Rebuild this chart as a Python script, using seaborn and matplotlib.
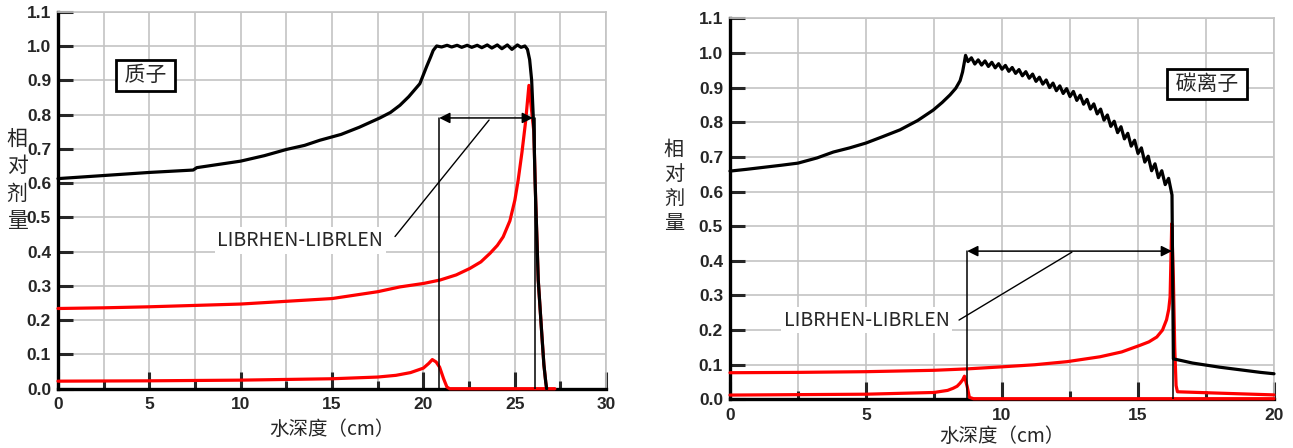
import matplotlib
matplotlib.use("Agg")
import matplotlib.pyplot as plt
import seaborn as sns

# ---- 质子 (proton) ----
p_black_x = [0, 2.5, 5, 7.4, 7.6, 10, 11.3, 12.5, 13.5, 14.34, 15.5, 16.5, 17.62, 18.2, 18.72, 19.2, 19.81,
             20.18, 20.4, 20.54,
             20.73, 21.0, 21.3, 21.55, 21.85, 22.1, 22.4, 22.65, 22.95, 23.2, 23.5, 23.75, 24.05, 24.3, 24.6,
             24.85, 25.15, 25.35, 25.56, 25.7, 25.82, 25.93, 26.05, 26.12, 26.18, 26.29, 26.47, 26.6, 26.7, 26.75]
p_black_y = [0.613, 0.622, 0.631, 0.638, 0.645, 0.664, 0.68, 0.698, 0.71, 0.725, 0.742, 0.763, 0.79, 0.806,
             0.827, 0.852, 0.89, 0.94, 0.968, 0.987,
             1.0, 0.997, 1.002, 0.997, 1.002, 0.996, 1.002, 0.996, 1.002, 0.995, 1.003, 0.994, 1.003,
             0.992, 1.003, 0.99, 1.003, 0.996, 1.0, 0.99, 0.96, 0.9, 0.755, 0.6, 0.5, 0.317, 0.171, 0.07, 0.02, 0.0]

p_red1_x = [0, 2.5, 5, 7.5, 10, 12.5, 15, 17.5, 18.72, 20.0, 20.91, 21.8, 22.55, 23.15, 23.65, 24.05, 24.37,
            24.74, 25.01, 25.19, 25.4, 25.6, 25.78, 26.05, 26.15, 26.29, 26.47, 26.6, 26.7, 26.75]
p_red1_y = [0.234, 0.236, 0.239, 0.243, 0.247, 0.255, 0.263, 0.283, 0.297, 0.307, 0.317, 0.332, 0.351, 0.37,
            0.395, 0.418, 0.443, 0.49, 0.55, 0.608, 0.69, 0.78, 0.885, 0.75, 0.55, 0.317, 0.171, 0.07, 0.02, 0.0]

p_red2_x = [0, 5, 10, 15, 17.5, 18.5, 19.3, 20, 20.3, 20.49, 20.7, 20.89, 21.11, 21.29, 21.44, 27.2]
p_red2_y = [0.022, 0.023, 0.025, 0.029, 0.034, 0.039, 0.047, 0.06, 0.074, 0.085, 0.078, 0.063, 0.029, 0.005,
            0.0, 0.0]

# ---- 碳离子 (carbon) ----
c_black_x = [0, 0.6, 1.25, 1.9, 2.5, 3.2, 3.8, 4.4, 5, 5.6, 6.25, 6.9, 7.47, 7.8, 8.09, 8.3, 8.46, 8.55, 8.62, 8.66,
             8.75, 8.875, 9.0, 9.125, 9.25, 9.375, 9.5, 9.625, 9.75, 9.875,
             10.0, 10.125, 10.25, 10.375, 10.5, 10.625, 10.75, 10.875, 11.0, 11.125,
             11.25, 11.375, 11.5, 11.625, 11.75, 11.875, 12.0, 12.125, 12.25, 12.375,
             12.5, 12.625, 12.75, 12.875, 13.0, 13.125, 13.25, 13.375, 13.5, 13.625,
             13.75, 13.875, 14.0, 14.125, 14.25, 14.375, 14.5, 14.625, 14.75, 14.875,
             15.0, 15.125, 15.25, 15.375, 15.5, 15.625, 15.75, 15.875, 16.0, 16.125,
             16.25, 16.3, 16.6, 17, 17.5, 18, 18.5, 19, 19.5, 20]
c_black_y = [0.659, 0.664, 0.67, 0.676, 0.682, 0.697, 0.714, 0.726, 0.74, 0.758, 0.778, 0.805, 0.835, 0.857,
             0.879, 0.898, 0.92, 0.945, 0.975, 0.993,
             0.975, 0.986, 0.968, 0.980, 0.965, 0.977, 0.961, 0.973, 0.957, 0.969,
             0.953, 0.964, 0.947, 0.958, 0.941, 0.952, 0.934, 0.946, 0.927, 0.939,
             0.918, 0.930, 0.910, 0.922, 0.900, 0.913, 0.891, 0.905, 0.883, 0.897,
             0.874, 0.889, 0.863, 0.878, 0.852, 0.866, 0.838, 0.853, 0.824, 0.838,
             0.806, 0.821, 0.788, 0.803, 0.770, 0.787, 0.752, 0.768, 0.731, 0.748,
             0.710, 0.726, 0.685, 0.702, 0.660, 0.680, 0.640, 0.660, 0.620, 0.638,
             0.59, 0.117, 0.112, 0.105, 0.099, 0.093, 0.088, 0.083, 0.078, 0.074]

c_red1_x = [0, 2.5, 5, 7.5, 8.7, 10, 11.2, 12.4, 13.6, 14.4, 15.07, 15.4, 15.69, 15.9, 16.05, 16.13, 16.18,
            16.21, 16.24, 16.3, 16.35, 16.4, 16.45, 18, 20]
c_red1_y = [0.077, 0.078, 0.08, 0.084, 0.088, 0.094, 0.1, 0.109, 0.123, 0.137, 0.156, 0.166, 0.18, 0.2, 0.23,
            0.26, 0.296, 0.4, 0.507, 0.35, 0.15, 0.04, 0.022, 0.018, 0.013]

c_red2_x = [0, 5, 7.5, 8.0, 8.2, 8.35, 8.45, 8.55, 8.62, 8.72, 8.8, 8.95, 20]
c_red2_y = [0.0125, 0.015, 0.02, 0.026, 0.032, 0.038, 0.046, 0.056, 0.067, 0.037, 0.006, 0.002, 0.002]

y_ticks = [i / 10 for i in range(12)]
y_labels = [f"{v:.1f}" for v in y_ticks]

sns.set_style("white")
# tick labels take the rc font: bold Arial-like; all other text names its own family
plt.rcParams['font.family'] = ['Liberation Sans', 'DejaVu Sans']
plt.rcParams['font.weight'] = 'bold'
CJK = ['Noto Sans CJK SC', 'DejaVu Sans']
TICKFONT = dict(family="Liberation Sans", fontweight="bold", fontsize=12.5)

fig = plt.figure(figsize=(12.93, 4.48), dpi=100)
ax1 = fig.add_axes([58 / 1293, 1 - 388.7 / 448, 548 / 1293, 377 / 448])
ax2 = fig.add_axes([730 / 1293, 1 - 399.4 / 448, 544 / 1293, 381.1 / 448])

grid_c = "#c4c4c4"


def style_axes(ax, xmax):
    ax.set_xlim(0, xmax)
    ax.set_ylim(0, 1.1)
    ax.set_axisbelow(True)
    xt = list(range(0, xmax + 1, 5))
    ax.set_xticks(xt, labels=[str(v) for v in xt], **TICKFONT)
    ax.set_xticks([v * 2.5 for v in range(int(xmax / 2.5) + 1)], minor=True)
    ax.set_yticks(y_ticks, labels=y_labels, **TICKFONT)
    ax.grid(True, which="both", axis="x", color=grid_c, lw=1.2)
    ax.grid(True, which="major", axis="y", color=grid_c, lw=1.2)
    for s in ["left", "bottom"]:
        ax.spines[s].set_color("black")
        ax.spines[s].set_linewidth(2.4)
    for s in ["top", "right"]:
        ax.spines[s].set_color(grid_c)
        ax.spines[s].set_linewidth(1.2)
    ax.tick_params(axis="y", which="major", direction="in", length=11, width=2.2, left=True, pad=5)
    ax.tick_params(axis="x", which="major", direction="in", length=12, width=2.2, bottom=True, pad=6)
    ax.tick_params(axis="x", which="minor", direction="in", length=6, width=2.2, bottom=True)
    ax.set_ylabel("")


def draw(ax, x, y, color):
    sns.lineplot(x=x, y=y, ax=ax, color=color, lw=2.3, sort=False, estimator=None,
                 zorder=3, clip_on=False)


def note(ax, x, y, s, boxed=False):
    if boxed:
        bb = dict(boxstyle="square,pad=0.2", facecolor="white", edgecolor="black", lw=2)
        size = 15
    else:
        bb = dict(facecolor="white", edgecolor="none", pad=2)
        size = 14
    ax.text(x, y, s, fontsize=size, ha="center", va="center", family=CJK, fontweight="normal",
            bbox=bb, zorder=6)


def span(ax, x0, x1, y):
    ax.plot([x0, x0], [0, y], color="black", lw=1.1, zorder=4)
    ax.plot([x1, x1], [0, y], color="black", lw=1.1, zorder=4)


# proton panel
draw(ax1, p_red2_x, p_red2_y, "red")
draw(ax1, p_red1_x, p_red1_y, "red")
draw(ax1, p_black_x, p_black_y, "black")
style_axes(ax1, 30)
ax1.set_xlabel("水深度（cm）", fontsize=14, labelpad=5, family=CJK, fontweight="normal")

span(ax1, 20.87, 26.1, 0.79)
ax1.annotate("", xy=(26.0, 0.79), xytext=(20.87, 0.79),
             arrowprops=dict(arrowstyle="<|-|>", color="black", lw=1.1, mutation_scale=16,
                             shrinkA=0, shrinkB=0), zorder=5)
ax1.plot([18.45, 23.6], [0.444, 0.784], color="black", lw=1.0, zorder=4)
note(ax1, 13.27, 0.433, "LIBRHEN-LIBRLEN")
note(ax1, 4.79, 0.914, " 质子 ", boxed=True)

# carbon panel
draw(ax2, c_red2_x, c_red2_y, "red")
draw(ax2, c_red1_x, c_red1_y, "red")
draw(ax2, c_black_x, c_black_y, "black")
style_axes(ax2, 20)
ax2.set_xlabel("水深度（cm）", fontsize=14, labelpad=2, family=CJK, fontweight="normal")

span(ax2, 8.72, 16.3, 0.428)
ax2.annotate("", xy=(16.25, 0.428), xytext=(8.72, 0.428),
             arrowprops=dict(arrowstyle="<|-|>", color="black", lw=1.1, mutation_scale=16,
                             shrinkA=0, shrinkB=0), zorder=5)
ax2.plot([8.42, 12.57], [0.229, 0.425], color="black", lw=1.0, zorder=4)
note(ax2, 5.02, 0.229, "LIBRHEN-LIBRLEN")
note(ax2, 17.54, 0.91, " 碳离子 ", boxed=True)

# stacked y labels
fig.text(17 / 1293, 1 - 180 / 448, "相\n对\n剂\n量", fontsize=15, ha="center", va="center",
         linespacing=1.3, family=CJK, fontweight="normal")
fig.text(674 / 1293, 1 - 187 / 448, "相\n对\n剂\n量", fontsize=14.5, ha="center", va="center",
         linespacing=1.22, family=CJK, fontweight="normal")

fig.savefig("out.png", dpi=100)
